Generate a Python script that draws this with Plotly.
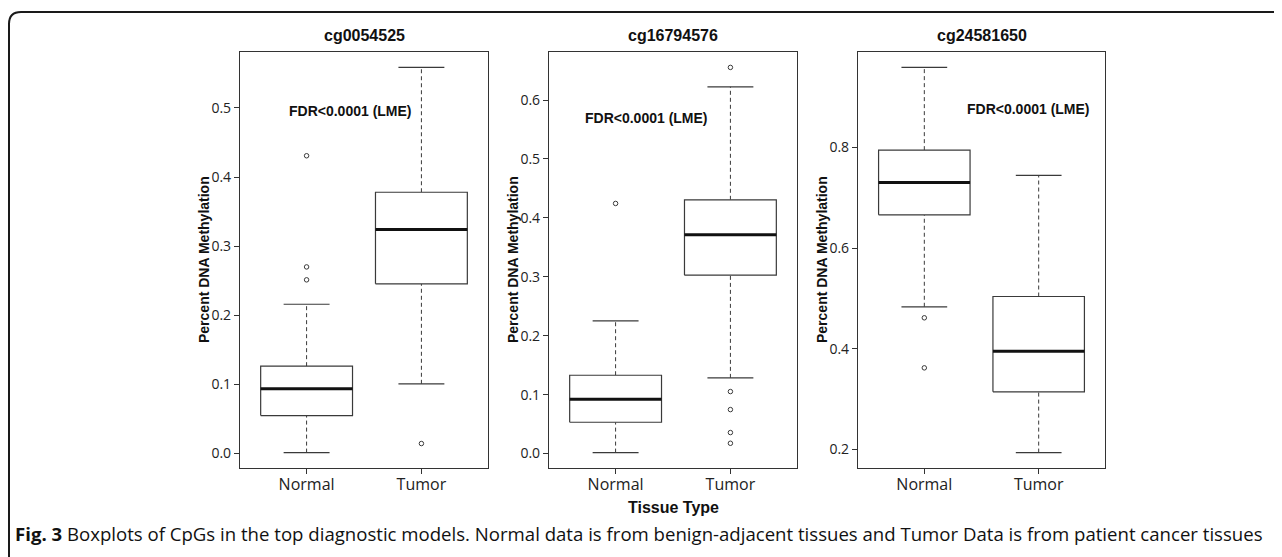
import plotly.graph_objects as go

# ---------------- data ----------------
cpgs = ["cg0054525", "cg16794576", "cg24581650"]
groups = ["Normal", "Tumor"]
lower_whisker = [[0.0014, 0.1009], [0.0017, 0.1285], [0.4836, 0.1940]]
q1_vals = [[0.0550, 0.2456], [0.0532, 0.3028], [0.6662, 0.3146]]
medians = [[0.0936, 0.3242], [0.0922, 0.3713], [0.7304, 0.3953]]
q3_vals = [[0.1264, 0.3780], [0.1330, 0.4307], [0.7947, 0.5040]]
upper_whisker = [[0.2160, 0.5586], [0.2253, 0.6225], [0.9590, 0.7444]]
outliers = [
    [[0.2513, 0.2700, 0.4308], [0.0145]],
    [[0.4245], [0.6554, 0.1053, 0.0747, 0.0357, 0.0175]],
    [[0.4617, 0.3623], []],
]
y_ticks = [
    [0.0, 0.1, 0.2, 0.3, 0.4, 0.5],
    [0.0, 0.1, 0.2, 0.3, 0.4, 0.5, 0.6],
    [0.2, 0.4, 0.6, 0.8],
]
fdr_label = "FDR<0.0001 (LME)"
fdr_pos = [(1.38, 0.495), (1.27, 0.569), (1.915, 0.876)]
y_title = "Percent DNA Methylation"
x_title = "Tissue Type"
caption = ("<b>Fig. 3</b> Boxplots of CpGs in the top diagnostic models. Normal data is from "
           "benign-adjacent tissues and Tumor Data is from patient cancer tissues")

# ---------------- layout geometry ----------------
# the page body has an 8px margin, so the figure is placed 8px in from the window corner
OFF = 8
W, H = 1282 - OFF, 557 - OFF


def px(v):
    return (v - OFF) / W


def py(v):
    return 1 - (v - OFF) / H


panel_px = [(240, 488), (549, 797), (858, 1105)]
top_px, bot_px = 52, 468
BOX_HALF = 0.4
CAP_HALF = 0.2
LINE = "#3a3a3a"

fig = go.Figure()
layout = dict(
    width=W, height=H, margin=dict(l=0, r=0, t=0, b=0), autosize=False,
    paper_bgcolor="white", plot_bgcolor="white", showlegend=False,
    font=dict(family="Open Sans", color="#222"),
)
annotations = []
shapes = []

for p, name in enumerate(cpgs):
    xa = "x" if p == 0 else f"x{p+1}"
    ya = "y" if p == 0 else f"y{p+1}"
    for g in range(len(groups)):
        c = g + 1
        lo, a, m, b, hi = (lower_whisker[p][g], q1_vals[p][g], medians[p][g],
                           q3_vals[p][g], upper_whisker[p][g])
        # whiskers (dashed)
        fig.add_trace(go.Scatter(x=[c, c, None, c, c], y=[lo, a, None, b, hi], mode="lines",
                                 line=dict(color=LINE, width=1, dash="4px,3px"),
                                 xaxis=xa, yaxis=ya, hoverinfo="skip"))
        # caps
        fig.add_trace(go.Scatter(x=[c - CAP_HALF, c + CAP_HALF, None, c - CAP_HALF, c + CAP_HALF],
                                 y=[lo, lo, None, hi, hi], mode="lines",
                                 line=dict(color=LINE, width=1.2),
                                 xaxis=xa, yaxis=ya, hoverinfo="skip"))
        # box
        fig.add_trace(go.Scatter(x=[c - BOX_HALF, c + BOX_HALF, c + BOX_HALF, c - BOX_HALF, c - BOX_HALF],
                                 y=[a, a, b, b, a], mode="lines", fill="toself", fillcolor="white",
                                 line=dict(color=LINE, width=1.2),
                                 xaxis=xa, yaxis=ya, hoverinfo="skip"))
        # median
        fig.add_trace(go.Scatter(x=[c - BOX_HALF, c + BOX_HALF], y=[m, m], mode="lines",
                                 line=dict(color="#111", width=3),
                                 xaxis=xa, yaxis=ya, hoverinfo="skip"))
        # outliers
        if outliers[p][g]:
            fig.add_trace(go.Scatter(x=[c] * len(outliers[p][g]), y=outliers[p][g], mode="markers",
                                     marker=dict(symbol="circle-open", size=4.5, color=LINE,
                                                 line=dict(width=1)),
                                     xaxis=xa, yaxis=ya, hoverinfo="skip"))

    allv = lower_whisker[p] + upper_whisker[p] + [v for grp in outliers[p] for v in grp]
    vmin, vmax = min(allv), max(allv)
    ext = (vmax - vmin) * 0.04
    x0, x1 = panel_px[p]
    axis_common = dict(showline=True, linecolor="#333", linewidth=1.2, mirror=True,
                       showgrid=False, zeroline=False, ticks="outside", ticklen=5,
                       tickcolor="#333", tickwidth=1)
    layout["xaxis" if p == 0 else f"xaxis{p+1}"] = dict(
        domain=[px(x0), px(x1)], range=[0.42, 2.58], tickmode="array",
        tickvals=[1, 2], ticktext=groups, anchor=ya, ticklabelstandoff=-3,
        tickfont=dict(family="Open Sans", size=16, color="#222"), **axis_common)
    layout["yaxis" if p == 0 else f"yaxis{p+1}"] = dict(
        domain=[py(bot_px), py(top_px)], range=[vmin - ext, vmax + ext],
        tickmode="array", tickvals=y_ticks[p], ticktext=[f"{t:.1f}" for t in y_ticks[p]],
        anchor=xa, tickfont=dict(family="Open Sans", size=14, color="#222"), **axis_common)

    # panel title
    annotations.append(dict(text=f"<b>{name}</b>", x=px((x0 + x1) / 2), y=py(35),
                            xref="paper", yref="paper", showarrow=False, xanchor="center",
                            yanchor="middle", font=dict(family="Liberation Sans", size=16, color="#111")))
    # y-axis title
    annotations.append(dict(text=f"<b>{y_title}</b>", x=px(x0 - 36), y=py((top_px + bot_px) / 2),
                            xref="paper", yref="paper", showarrow=False, textangle=-90,
                            xanchor="center", yanchor="middle",
                            font=dict(family="Liberation Sans", size=14, color="#111")))
    # FDR label
    annotations.append(dict(text=f"<b>{fdr_label}</b>", x=fdr_pos[p][0], y=fdr_pos[p][1],
                            xref=xa, yref=ya, showarrow=False, xanchor="center", yanchor="middle",
                            font=dict(family="Liberation Sans", size=14, color="#111")))

annotations.append(dict(text=f"<b>{x_title}</b>", x=px(673), y=py(507), xref="paper", yref="paper",
                        showarrow=False, xanchor="center", yanchor="middle",
                        font=dict(family="Liberation Sans", size=16, color="#111")))
annotations.append(dict(text=caption, x=px(13), y=py(533), xref="paper", yref="paper",
                        showarrow=False, xanchor="left", yanchor="middle",
                        font=dict(family="Open Sans", size=18.6, color="#111")))

# figure frame with rounded top-left corner
r = 12
fx, fy = px(9), py(12)
shapes.append(dict(type="path", xref="paper", yref="paper",
                   path=(f"M {fx} -0.02 L {fx} {fy - r / H} "
                         f"Q {fx} {fy} {fx + r / W} {fy} L 1.02 {fy}"),
                   line=dict(color="#1a1a1a", width=2)))

layout["annotations"] = annotations
layout["shapes"] = shapes
fig.update_layout(**layout)
fig.write_html("out.html")
